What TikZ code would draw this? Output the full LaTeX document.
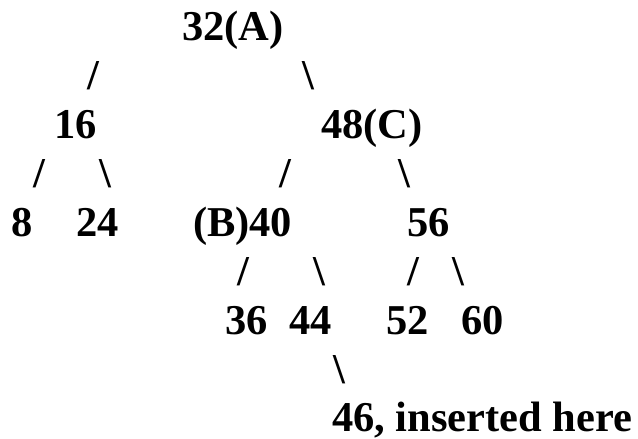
\documentclass[tikz,border=0pt]{standalone}
\usepackage{fontspec}
\setmainfont{Liberation Serif}
\usepackage{tikz}
\usetikzlibrary{calc}
\usetikzlibrary{positioning}

\begin{document}
\begin{tikzpicture}[x=1pt,y=-1pt,
                    nodes={inner sep=0pt,outer sep=0pt,anchor=base west,
                           font=\fontsize{42.5}{49}\selectfont\bfseries},
                    val/.style={text=black},
                    lnk/.style={text=black}]
 \useasboundingbox (0,0) rectangle (638,439);
 % level 0
 \node[val] (n32) at (182,40) {32(A)};
 \node[lnk] (l32) at (87,89) {/};
 \node[lnk] (r32) at (302,89) {\textbackslash};
 % level 1
 \node[val] (n16) at (54,138) {16};
 \node[val] (n48) at (321,138) {48(C)};
 \node[lnk] (l16) at (33,187) {/};
 \node[lnk] (r16) at (99,187) {\textbackslash};
 \node[lnk] (l48) at (279,187) {/};
 \node[lnk] (r48) at (398,187) {\textbackslash};
 % level 2
 \node[val] (n8)  at (12,236) {8};
 \node[val] (n24) at (76,236) {24};
 \node[val] (n40) at (193,236) {(B)40};
 \node[val] (n56) at (407,236) {56};
 \node[lnk] (l40) at (237,285) {/};
 \node[lnk] (r40) at (313,285) {\textbackslash};
 \node[lnk] (l56) at (407,285) {/};
 \node[lnk] (r56) at (452,285) {\textbackslash};
 % level 3
 \node[val] (n36) at (225,334) {36};
 \node[val] (n44) at (289,334) {44};
 \node[val] (n52) at (386,334) {52};
 \node[val] (n60) at (461,334) {60};
 \node[lnk] (r44) at (333,383) {\textbackslash};
 % level 4
 \node[val] (n46) at (332,431) {46, inserted here};
\end{tikzpicture}
\end{document}
